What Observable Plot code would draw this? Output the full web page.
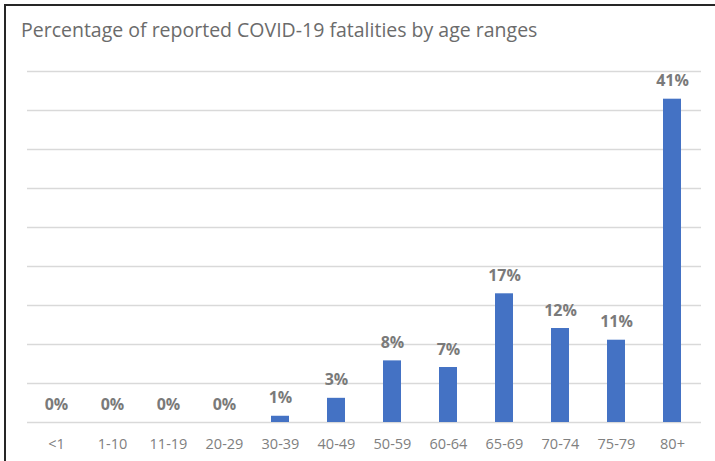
<!DOCTYPE html>
<html>
<head>
<meta charset="utf-8">
<script src="https://cdn.jsdelivr.net/npm/d3@7"></script>
<script src="https://cdn.jsdelivr.net/npm/@observablehq/plot@0.6"></script>
<style>
  html, body { margin: 0; padding: 0; background: #fff; }
  #page { position: relative; width: 715px; height: 461px; overflow: hidden; background: #fff; }
  #frame { position: absolute; left: 4px; top: 4px; width: 711px; height: 457px;
           border-top: 2px solid #262626; border-left: 2px solid #262626; box-sizing: border-box; }
  #title { position: absolute; left: 21px; top: 20px; font-family: "Open Sans", sans-serif;
           font-size: 19.5px; line-height: 19.5px; color: #6b6b6b; white-space: nowrap; }
  #chart { position: absolute; left: 0; top: 50px; }
</style>
</head>
<body>
<div id="page">
  <div id="frame"></div>
  <div id="title">Percentage of reported COVID-19 fatalities by age ranges</div>
  <div id="chart"></div>
</div>
<script>
const categories = ["<1", "1-10", "11-19", "20-29", "30-39", "40-49", "50-59", "60-64", "65-69", "70-74", "75-79", "80+"];
const values = [0, 0, 0, 0, 0.8, 3.1, 7.9, 7.05, 16.5, 12.05, 10.55, 41.45];
const labels = ["0%", "0%", "0%", "0%", "1%", "3%", "8%", "7%", "17%", "12%", "11%", "41%"];
const gridTicks = [0, 5, 10, 15, 20, 25, 30, 35, 40, 45];

const data = categories.map((c, i) => ({age: c, value: values[i], label: labels[i]}));

const chart = Plot.plot({
  width: 715,
  height: 411,
  marginTop: 21,
  marginBottom: 39,
  marginLeft: 27,
  marginRight: 14,
  style: {fontFamily: "'Open Sans', sans-serif", background: "transparent", overflow: "visible"},
  x: {domain: categories, paddingInner: 0.68, paddingOuter: 0.34, label: null},
  y: {domain: [0, 45], axis: null},
  marks: [
    Plot.gridY(gridTicks, {stroke: "#d9d9d9", strokeOpacity: 1, strokeWidth: 1.3}),
    Plot.barY(data, {x: "age", y: "value", fill: "#4472c4"}),
    Plot.text(data, {x: "age", y: "value", text: "label", dy: -18, fill: "#7a7a7a",
                     fontWeight: "bold", fontSize: 16}),
    Plot.axisX({tickSize: 0, tickPadding: 16, fontSize: 14.5, color: "#808080", label: null})
  ]
});
document.getElementById("chart").appendChild(chart);
</script>
</body>
</html>
